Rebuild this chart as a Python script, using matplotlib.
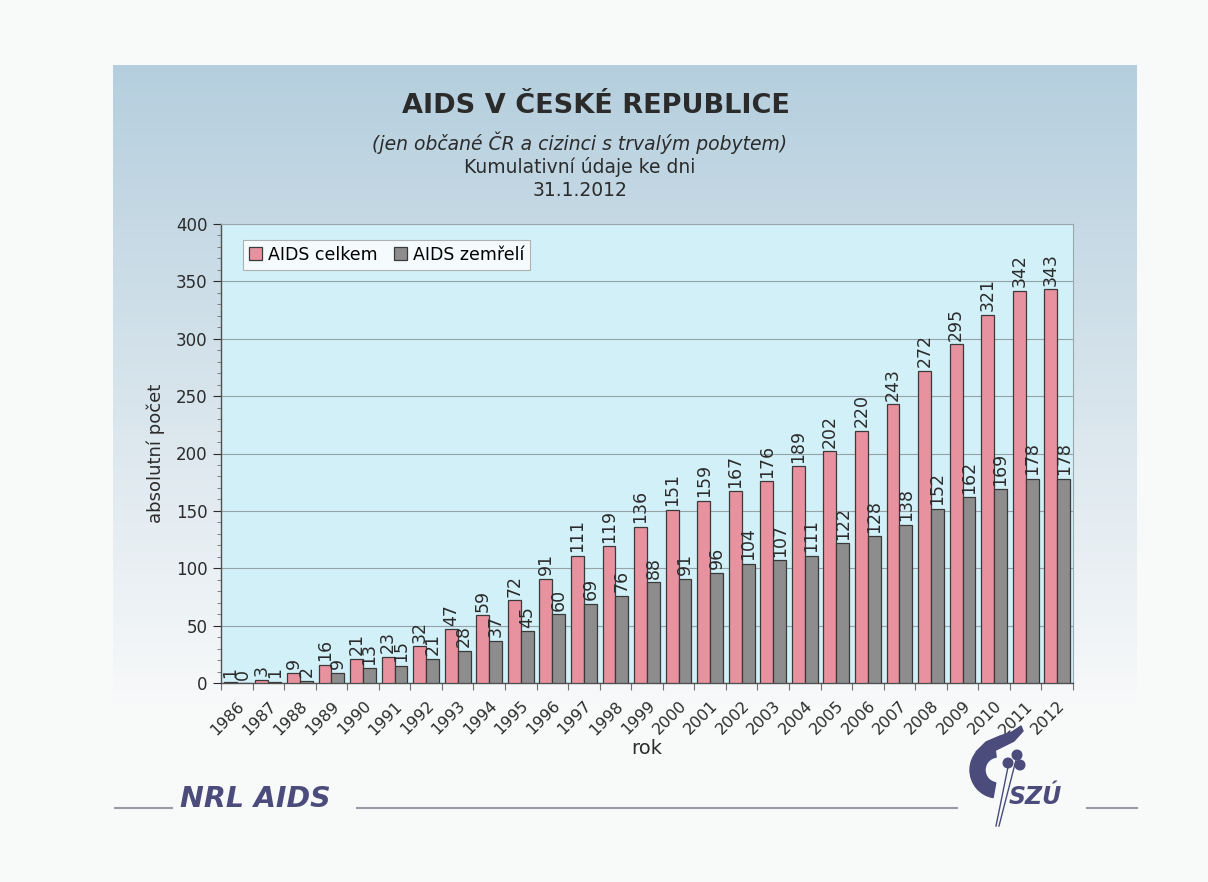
import numpy as np
import matplotlib
matplotlib.use("Agg")
import matplotlib.pyplot as plt
from matplotlib.patches import Circle, Wedge, Polygon
from matplotlib.lines import Line2D

years = ["1986", "1987", "1988", "1989", "1990", "1991", "1992", "1993", "1994",
         "1995", "1996", "1997", "1998", "1999", "2000", "2001", "2002", "2003",
         "2004", "2005", "2006", "2007", "2008", "2009", "2010", "2011", "2012"]
aids_total = [1, 3, 9, 16, 21, 23, 32, 47, 59, 72, 91, 111, 119, 136, 151, 159,
              167, 176, 189, 202, 220, 243, 272, 295, 321, 342, 343]
aids_dead = [0, 1, 2, 9, 13, 15, 21, 28, 37, 45, 60, 69, 76, 88, 91, 96, 104,
             107, 111, 122, 128, 138, 152, 162, 169, 178, 178]

W, H = 1208, 882
fig = plt.figure(figsize=(W / 100, H / 100), dpi=100)
fig.patch.set_facecolor("#f8f9f9")

def fx(px):
    return px / W

def fy(py):
    return 1 - py / H

# gradient panel behind the chart
bg = fig.add_axes([fx(113), fy(790), fx(1137) - fx(113), fy(65) - fy(790)], zorder=0)
top = np.array([0.71, 0.81, 0.87])
bot = np.array([0.975, 0.978, 0.98])
t = np.linspace(0, 1, 256)[:, None]
t = np.clip(t * 1.12, 0, 1)
grad = top[None, None, :] * (1 - t[..., None]) + bot[None, None, :] * t[..., None]
grad = np.repeat(grad, 4, axis=1)
bg.imshow(grad, aspect="auto", extent=[0, 1, 0, 1])
bg.set_axis_off()

# titles
fig.text(fx(596), fy(106), "AIDS V ČESKÉ REPUBLICE", ha="center", va="center",
         fontsize=19.5, fontweight="bold", color="#2b2b2b", zorder=5)
fig.text(fx(580), fy(143), "(jen občané ČR a cizinci s trvalým pobytem)", ha="center",
         va="center", fontsize=13.5, style="italic", color="#2b2b2b", zorder=5)
fig.text(fx(580), fy(167), "Kumulativní údaje ke dni", ha="center", va="center",
         fontsize=13.5, color="#2b2b2b", zorder=5)
fig.text(fx(580), fy(191), "31.1.2012", ha="center", va="center",
         fontsize=13.5, color="#2b2b2b", zorder=5)

# main chart
ax = fig.add_axes([fx(221), fy(683), fx(1073) - fx(221), fy(224) - fy(683)], zorder=2)
ax.set_facecolor("#d2f0f8")
x = np.arange(len(years))
bw = 0.41
ax.bar(x - bw / 2, aids_total, bw, color="#e8929f", edgecolor="#3a3a3a",
       linewidth=0.9, label="AIDS celkem", zorder=3)
ax.bar(x + bw / 2, aids_dead, bw, color="#8d8d8d", edgecolor="#3a3a3a",
       linewidth=0.9, label="AIDS zemřelí", zorder=3)

for xi, v in zip(x - bw / 2, aids_total):
    ax.text(xi, v + 3, str(v), rotation=90, ha="center", va="bottom",
            fontsize=12.5, color="#2b2b2b", zorder=4)
for xi, v in zip(x + bw / 2, aids_dead):
    ax.text(xi, v + 3, str(v), rotation=90, ha="center", va="bottom",
            fontsize=12.5, color="#2b2b2b", zorder=4)

ax.set_xlim(-0.5, len(years) - 0.5)
ax.set_ylim(0, 400)
ax.set_yticks(np.arange(0, 401, 50))
ax.set_yticks(np.arange(0, 401, 10), minor=True)
ax.yaxis.grid(True, which="major", color="#93a3a8", linewidth=0.8, zorder=1)
ax.set_axisbelow(True)
ax.tick_params(axis="y", which="major", length=6, labelsize=12, colors="#2b2b2b",
               direction="out")
ax.tick_params(axis="y", which="minor", length=3, color="#707070", direction="out")

ax.set_xticks(np.arange(-0.5, len(years), 1.0))
ax.set_xticklabels([])
ax.set_xticks(x, minor=True)
ax.set_xticklabels(years, minor=True, rotation=45, ha="right",
                   rotation_mode="anchor", fontsize=11.5, color="#2b2b2b")
ax.tick_params(axis="x", which="major", length=5, color="#707070", direction="out")
ax.tick_params(axis="x", which="minor", length=0, pad=11)

for s in ["left", "bottom"]:
    ax.spines[s].set_color("#505050")
    ax.spines[s].set_linewidth(1.0)
for s in ["top", "right"]:
    ax.spines[s].set_color("#9aa8ad")
    ax.spines[s].set_linewidth(0.8)

ax.set_ylabel("absolutní počet", fontsize=13, color="#2b2b2b", labelpad=8)
ax.set_xlabel("rok", fontsize=14, color="#2b2b2b", labelpad=1)

leg = ax.legend(loc="upper left", bbox_to_anchor=(0.016, 0.985), ncol=2,
                fontsize=12.5, frameon=True, fancybox=False, handlelength=0.75,
                handleheight=0.75, handletextpad=0.35, columnspacing=0.9,
                borderpad=0.35)
leg.get_frame().set_edgecolor("#a0a0a0")
leg.get_frame().set_facecolor("white")
leg.get_frame().set_linewidth(0.8)

# footer: NRL AIDS / SZÚ
ov = fig.add_axes([0, 0, 1, 1], zorder=6)
ov.set_xlim(0, W)
ov.set_ylim(H, 0)
ov.set_axis_off()
line_c = "#9a9aa4"
ov.add_line(Line2D([115, 172], [808, 808], color=line_c, lw=1.5))
ov.add_line(Line2D([357, 957], [808, 808], color=line_c, lw=1.5))
ov.add_line(Line2D([1087, 1137], [808, 808], color=line_c, lw=1.5))
logo_c = "#4b4b7c"
ov.text(180, 799, "NRL AIDS", fontsize=20.5, fontweight="bold", style="italic",
        color=logo_c, ha="left", va="center")
ov.text(1009, 797, "SZÚ", fontsize=17, fontweight="bold", style="italic",
        color=logo_c, ha="left", va="center")
ov.add_patch(Wedge((998, 770), 28, 100, 262, width=15, color=logo_c))
ov.add_patch(Polygon([(976, 752), (986, 742), (1000, 736), (1012, 732), (1021, 726),
                      (1023, 731), (1014, 741), (1002, 747), (992, 752), (986, 760)],
                     closed=True, color=logo_c))
for cx, cy in [(1017, 755), (1008, 763), (1020, 765)]:
    ov.add_patch(Circle((cx, cy), 4.8, color=logo_c))
ov.add_line(Line2D([1016, 999], [760, 826], color=logo_c, lw=1.0))
ov.add_line(Line2D([1008, 996], [767, 826], color=logo_c, lw=1.0))

fig.savefig("out.png", dpi=100, facecolor=fig.get_facecolor())
